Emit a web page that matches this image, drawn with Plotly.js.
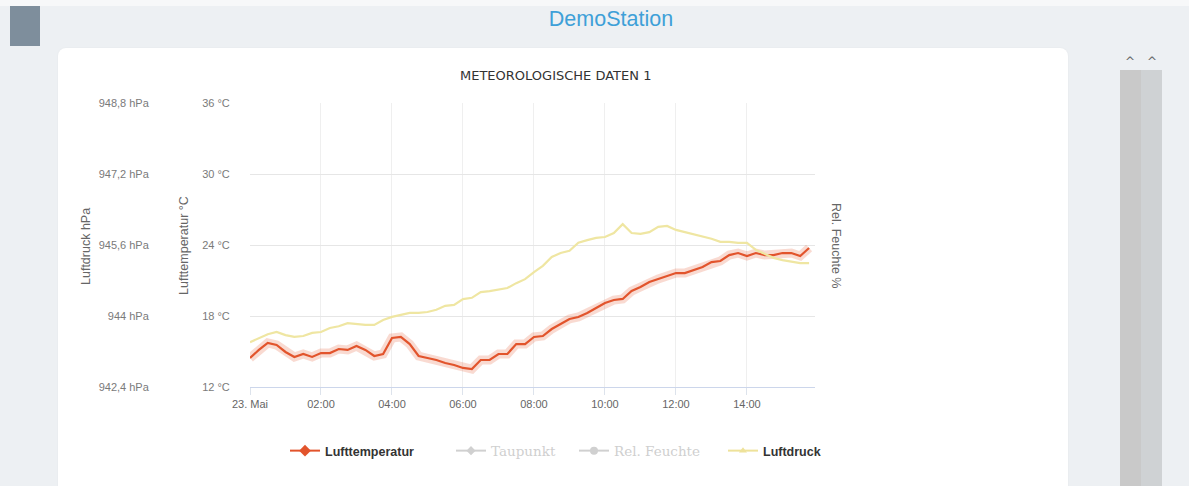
<!DOCTYPE html>
<html>
<head>
<meta charset="utf-8">
<script src="https://cdn.plot.ly/plotly-3.0.1.min.js"></script>
<style>
  html, body { margin:0; padding:0; width:1189px; height:486px; overflow:hidden; background:#edf0f3; font-family:"Liberation Sans", Arial, sans-serif; }
  #topstrip { position:absolute; left:0; top:0; width:1189px; height:6px; background:#f7f8f9; }
  #leftbox { position:absolute; left:10px; top:6px; width:30px; height:40px; background:#7e8e9c; }
  #station { position:absolute; left:0; top:7px; width:1222px; text-align:center; color:#3ea0d8; font-size:21.5px; font-family:"Liberation Sans", Arial, sans-serif; }
  #card { position:absolute; left:58px; top:48px; width:1010px; height:460px; background:#ffffff; border-radius:8px; box-shadow:0 0 2px rgba(0,0,0,0.05); }
  .sb { position:absolute; top:70px; width:21px; height:430px; }
  #sb1 { left:1120px; background:#c9c9c9; }
  #sb2 { left:1141px; background:#cfd2d4; }
  .caret { position:absolute; top:55px; font-size:12px; color:#666; font-family:"DejaVu Sans", sans-serif; }
  #chart { position:absolute; left:0; top:0; width:1189px; height:486px; }
</style>
</head>
<body>
<div id="topstrip"></div>
<div id="leftbox"></div>
<div id="station">DemoStation</div>
<div id="card"></div>
<div class="sb" id="sb1"></div>
<div class="sb" id="sb2"></div>
<div class="caret" style="left:1125px;">^</div>
<div class="caret" style="left:1147px;">^</div>
<div id="chart"></div>
<script>
// ---- data ----
const times = ['00:00','00:15','00:30','00:45','01:00','01:15','01:30','01:45',
  '02:00','02:15','02:30','02:45','03:00','03:15','03:30','03:45',
  '04:00','04:15','04:30','04:45','05:00','05:15','05:30','05:45',
  '06:00','06:15','06:30','06:45','07:00','07:15','07:30','07:45',
  '08:00','08:15','08:30','08:45','09:00','09:15','09:30','09:45',
  '10:00','10:15','10:30','10:45','11:00','11:15','11:30','11:45',
  '12:00','12:15','12:30','12:45','13:00','13:15','13:30','13:45',
  '14:00','14:15','14:30','14:45','15:00','15:15','15:30','15:45'];
const lufttemperatur = [14.45,15.13,15.72,15.55,14.96,14.54,14.79,14.54,
  14.87,14.87,15.21,15.13,15.46,15.13,14.62,14.79,
  16.14,16.23,15.63,14.62,14.45,14.28,14.03,13.86,
  13.61,13.52,14.28,14.28,14.79,14.79,15.63,15.63,
  16.23,16.31,16.90,17.32,17.75,17.92,18.25,18.68,
  19.10,19.35,19.44,20.11,20.45,20.87,21.13,21.38,
  21.63,21.63,21.89,22.14,22.56,22.65,23.15,23.32,
  23.07,23.32,23.15,23.15,23.32,23.32,23.07,23.75];
const luftdruck = [943.41,943.50,943.59,943.64,943.57,943.53,943.55,943.62,
  943.64,943.73,943.77,943.84,943.82,943.80,943.80,943.91,
  943.98,944.02,944.07,944.07,944.09,944.14,944.23,944.25,
  944.38,944.41,944.54,944.56,944.59,944.63,944.74,944.83,
  944.99,945.13,945.33,945.42,945.47,945.65,945.71,945.76,
  945.78,945.87,946.07,945.87,945.85,945.89,946.01,946.03,
  945.94,945.89,945.83,945.78,945.74,945.67,945.67,945.65,
  945.65,945.49,945.40,945.31,945.26,945.22,945.19,945.19];
const day = '2019-05-23';
const xTickVals = ['00:00','02:00','04:00','06:00','08:00','10:00','12:00','14:00'];
const xTickText = ['23. Mai','02:00','04:00','06:00','08:00','10:00','12:00','14:00'];
const tempTickVals = [12,18,24,30,36];
const tempTickText = ['12 °C','18 °C','24 °C','30 °C','36 °C'];
const pressTickVals = [942.4,944,945.6,947.2,948.8];
const pressTickText = ['942,4 hPa','944 hPa','945,6 hPa','947,2 hPa','948,8 hPa'];
const seriesNames = ['Lufttemperatur','Taupunkt','Rel. Feuchte','Luftdruck'];

// ---- layout helpers ----
const W = 1189, H = 486;
const px = v => v / W;
const py = v => 1 - v / H;
const x = times.map(t => day + ' ' + t);
// legend-only entries carry no visible points
const noX = [x[0]], noY = [null];
const hiddenName = n => '<span style="color:#cfcfcf;font-family:DejaVu Serif, serif;font-size:13.5px">' + n + '</span>';

const traces = [
  { x: x, y: lufttemperatur, type:'scatter', mode:'lines', showlegend:false, hoverinfo:'skip',
    line:{color:'rgba(228,86,45,0.22)', width:9} },
  { x: x, y: lufttemperatur, type:'scatter', mode:'lines', showlegend:false, name: seriesNames[0],
    line:{color:'#e2542c', width:2.2} },
  { x: x, y: luftdruck, type:'scatter', mode:'lines', showlegend:false, name: seriesNames[3], yaxis:'y2',
    line:{color:'#efe6a2', width:2.2} },
  // legend entries
  { x: noX, y: noY, type:'scatter', mode:'lines+markers', name:'<b>'+seriesNames[0]+'</b>', legend:'legend',
    line:{color:'#e2542c', width:2}, marker:{symbol:'diamond', size:9, color:'#e2542c'} },
  { x: noX, y: noY, type:'scatter', mode:'lines+markers', name: hiddenName(seriesNames[1]), legend:'legend2',
    line:{color:'#d0d0d0', width:2}, marker:{symbol:'diamond', size:7, color:'#d0d0d0'} },
  { x: noX, y: noY, type:'scatter', mode:'lines+markers', name: hiddenName(seriesNames[2]), legend:'legend3',
    line:{color:'#d0d0d0', width:2}, marker:{symbol:'circle', size:8, color:'#d0d0d0'} },
  { x: noX, y: noY, type:'scatter', mode:'lines+markers', name:'<b>'+seriesNames[3]+'</b>', legend:'legend4',
    line:{color:'#eee29a', width:2}, marker:{symbol:'triangle-up', size:7, color:'#eee29a'} }
];

const axisFont = {family:'Liberation Sans, Arial, sans-serif', size:11, color:'#7a7a7a'};
const titleFont = {family:'Liberation Sans, Arial, sans-serif', size:12.5, color:'#666'};
const legendBase = (lx) => ({
  orientation:'h', x: px(lx), xanchor:'left', y: py(451), yanchor:'middle',
  font:{family:'Liberation Sans, Arial, sans-serif', size:12.5, color:'#333'},
  bgcolor:'rgba(0,0,0,0)', itemwidth:30
});
const layout = {
  width: W, height: H, autosize:false,
  margin:{l:0, r:0, t:0, b:0, pad:0},
  paper_bgcolor:'rgba(0,0,0,0)', plot_bgcolor:'rgba(0,0,0,0)',
  showlegend:true,
  xaxis:{
    type:'date', domain:[px(250), px(815)],
    range:[day+' 00:00', day+' 15:55'],
    tickmode:'array', tickvals: xTickVals.map(t => day+' '+t), ticktext: xTickText,
    showgrid:true, gridcolor:'#efefef', gridwidth:1,
    showline:true, linecolor:'#ccd6eb', linewidth:1,
    ticks:'outside', ticklen:7, tickcolor:'#dde3ec',
    tickfont:{family:'Liberation Sans, Arial, sans-serif', size:11, color:'#666'},
    zeroline:false, fixedrange:true
  },
  yaxis:{
    domain:[py(387), py(103)], range:[12,36],
    tickmode:'array', tickvals: tempTickVals, ticktext: tempTickText,
    showgrid:true, gridcolor:'#e6e6e6', gridwidth:1,
    showline:false, zeroline:false,
    ticks:'outside', ticklen:17, tickcolor:'rgba(0,0,0,0)',
    tickfont: axisFont, fixedrange:true
  },
  yaxis2:{
    overlaying:'y', side:'left', anchor:'free', position: px(153),
    range:[942.4,948.8],
    tickmode:'array', tickvals: pressTickVals, ticktext: pressTickText,
    showgrid:false, showline:false, zeroline:false,
    ticks:'outside', ticklen:2, tickcolor:'rgba(0,0,0,0)',
    tickfont: axisFont, fixedrange:true
  },
  legend: legendBase(285),
  legend2: legendBase(451),
  legend3: legendBase(574),
  legend4: legendBase(723),
  annotations:[
    { text:'METEOROLOGISCHE DATEN 1', xref:'paper', yref:'paper', x:px(555), y:py(75),
      showarrow:false, xanchor:'center', yanchor:'middle',
      font:{family:'DejaVu Sans, sans-serif', size:13, color:'#333'} },
    { text:'Luftdruck hPa', xref:'paper', yref:'paper', x:px(86), y:py(247), textangle:-90,
      showarrow:false, xanchor:'center', yanchor:'middle', font: titleFont },
    { text:'Lufttemperatur °C', xref:'paper', yref:'paper', x:px(184), y:py(246), textangle:-90,
      showarrow:false, xanchor:'center', yanchor:'middle', font: titleFont },
    { text:'Rel. Feuchte %', xref:'paper', yref:'paper', x:px(836), y:py(245), textangle:90,
      showarrow:false, xanchor:'center', yanchor:'middle', font: titleFont }
  ]
};

Plotly.newPlot('chart', traces, layout, {displayModeBar:false, staticPlot:true});
</script>
</body>
</html>
